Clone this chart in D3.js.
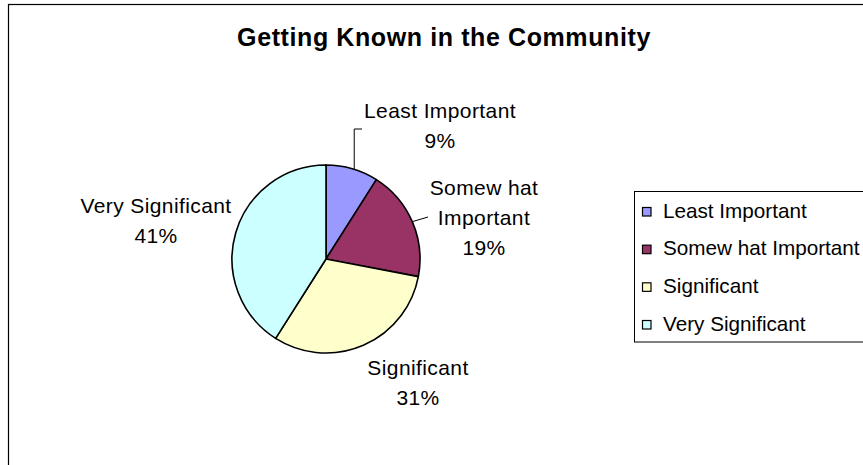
<!DOCTYPE html>
<html>
<head>
<meta charset="utf-8">
<script src="https://cdn.jsdelivr.net/npm/d3@7"></script>
<style>
  html, body { margin: 0; padding: 0; background: #fff; overflow: hidden; }
  svg { display: block; font-family: "Liberation Sans", Arial, sans-serif; }
</style>
</head>
<body>
<svg id="chart" width="863" height="465"></svg>
<script>
// Survey results: importance of getting known in the community
const categories = ["Least Important", "Somewhat Important", "Significant", "Very Significant"];
const legendLabels = ["Least Important", "Somew hat Important", "Significant", "Very Significant"];
const values = [9, 19, 31, 41];
const colors = ["#9999FF", "#993366", "#FFFFCC", "#CCFFFF"];
const title = "Getting Known in the Community";

// Data label placement (offsets from the pie centre), lines of text, and leader ends
const labelLayout = [
  { lines: ["Least Important", "9%"], dx: 114, dy: -141, leader: [[29, -130], [36, -130]] },
  { lines: ["Somew hat", "Important", "19%"], dx: 158, dy: -64, leader: [[102, -42]] },
  { lines: ["Significant", "31%"], dx: 92, dy: 116, leader: null },
  { lines: ["Very Significant", "41%"], dx: -170, dy: -46, leader: null }
];

const svg = d3.select("#chart");
const cx = 326, cy = 259, radius = 94;
const fontSize = 21, lineH = 30;

// Chart area frame (extends past the window on the right and bottom)
svg.append("rect")
  .attr("x", 8.5).attr("y", 4.5)
  .attr("width", 900).attr("height", 500)
  .attr("fill", "#fff").attr("stroke", "#000").attr("stroke-width", 1.2);

// Title
svg.append("text")
  .attr("x", 444).attr("y", 46)
  .attr("text-anchor", "middle")
  .attr("font-weight", "bold")
  .attr("font-size", 25)
  .attr("letter-spacing", 0.6)
  .text(title);

// Pie, starting at 12 o'clock and running clockwise
const pie = d3.pie().value(d => d).sort(null);
const arcs = pie(values);
const arc = d3.arc().innerRadius(0).outerRadius(radius);

const g = svg.append("g").attr("transform", `translate(${cx},${cy})`);
g.selectAll("path.slice")
  .data(arcs)
  .join("path")
  .attr("class", "slice")
  .attr("d", arc)
  .attr("fill", (d, i) => colors[i])
  .attr("stroke", "#000")
  .attr("stroke-width", 1.6)
  .attr("stroke-linejoin", "round");

// Leader lines from the slice edge to the label
arcs.forEach((d, i) => {
  const L = labelLayout[i];
  if (!L.leader) return;
  const mid = (d.startAngle + d.endAngle) / 2;
  const start = [Math.sin(mid) * radius, -Math.cos(mid) * radius];
  const pts = [start].concat(L.leader);
  if (i === 0) pts[1] = [start[0] + 2, L.leader[0][1]], pts[0] = [start[0] + 2, start[1] + 1];
  g.append("path")
    .attr("d", d3.line()(pts))
    .attr("fill", "none")
    .attr("stroke", "#000")
    .attr("stroke-width", 1);
});

// Data labels
arcs.forEach((d, i) => {
  const L = labelLayout[i];
  const t = g.append("text")
    .attr("text-anchor", "middle")
    .attr("font-size", fontSize)
    .attr("letter-spacing", 0.4)
    .attr("fill", "#000");
  L.lines.forEach((line, k) => {
    t.append("tspan")
      .attr("x", L.dx)
      .attr("y", L.dy + k * lineH)
      .text(line);
  });
});

// Legend
const legend = svg.append("g").attr("transform", "translate(634.5,191.5)");
legend.append("rect")
  .attr("x", 0).attr("y", 0)
  .attr("width", 300).attr("height", 150.5)
  .attr("fill", "#fff").attr("stroke", "#000").attr("stroke-width", 1);

const rowY = d3.scalePoint().domain(categories).range([26, 139]);
const items = legend.selectAll("g.item")
  .data(categories)
  .join("g")
  .attr("class", "item")
  .attr("transform", d => `translate(0,${rowY(d)})`);
items.append("rect")
  .attr("x", 8).attr("y", -10)
  .attr("width", 8.5).attr("height", 8.5)
  .attr("fill", (d, i) => colors[i])
  .attr("stroke", "#000").attr("stroke-width", 1.2);
items.append("text")
  .attr("x", 28.5).attr("y", 0)
  .attr("font-size", 20.7)
  .text((d, i) => legendLabels[i]);
</script>
</body>
</html>
